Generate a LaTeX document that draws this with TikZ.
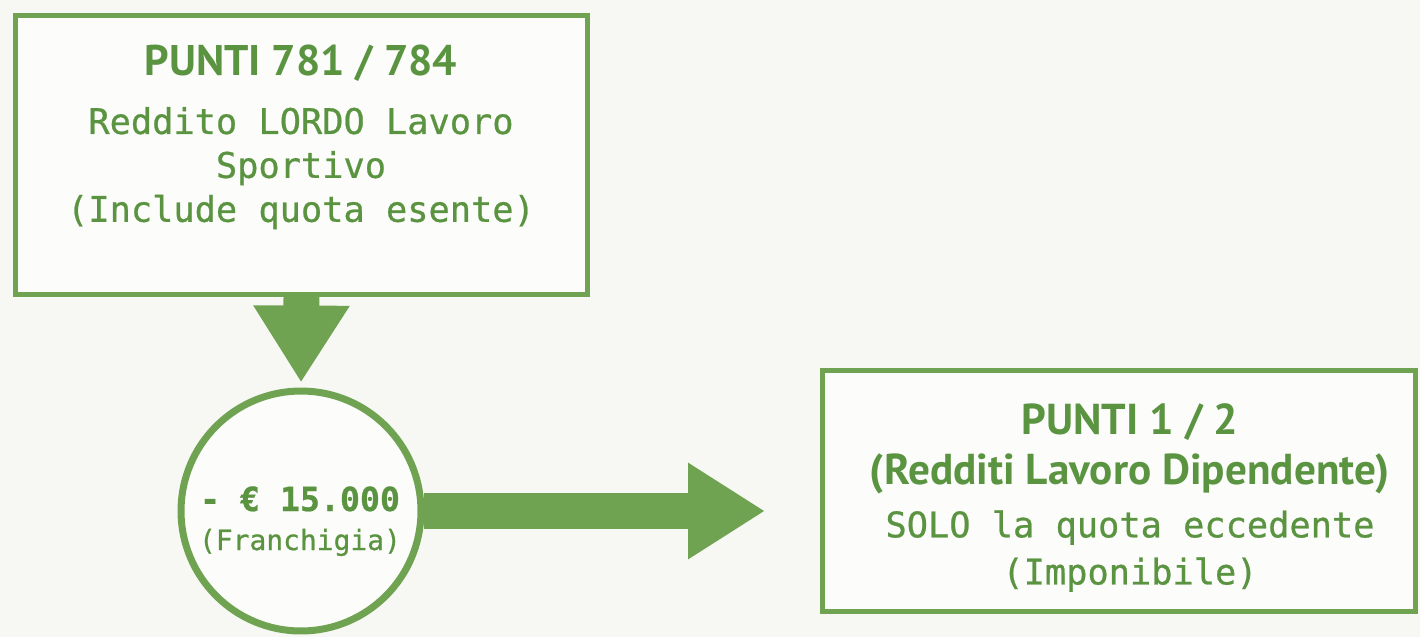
\documentclass[tikz,border=0pt]{standalone}
\usepackage{fontspec}
\usetikzlibrary{arrows.meta,positioning}
\newfontfamily\titlefont{PT Sans}
\newfontfamily\monofont[FakeBold=0.7]{DejaVu Sans Mono}
\definecolor{verde}{HTML}{6FA352}
\definecolor{verdetxt}{HTML}{5B9441}
\definecolor{sfondo}{HTML}{F7F8F4}

\begin{document}
\begin{tikzpicture}[x=0.02cm,y=-0.02cm,
  panel/.style={draw=verde,line width=0.1cm,fill=white!60!sfondo,minimum width=#1},
  testo/.style={text=verdetxt,align=center,inner sep=0pt,anchor=north},
  freccia/.style={draw=verde,line width=0.72cm,-{Triangle[length=1.54cm,width=1.82cm]}}]
  \fill[sfondo] (0,0) rectangle (1420,637);
  \useasboundingbox (0,0) rectangle (1420,637);
  \node[panel=11.44cm,minimum height=5.58cm] (lordo) at (301.5,155) {};
  \node[panel=11.86cm,minimum height=4.82cm] (dipendente) at (1119,491) {};
  \node[draw=verde,line width=0.14cm,circle,minimum size=4.8cm,fill=white!60!sfondo] (franchigia) at (301,511) {};
  \node[testo,font=\monofont\fontsize{20.1}{25}\selectfont] (lordotxt) at (301,45)
    {{\titlefont\bfseries\fontsize{24.4}{25}\selectfont PUNTI 781 / 784}\\[8pt]
     Reddito LORDO Lavoro\\ Sportivo\\ (Include quota esente)};
  \node[testo,font=\monofont\fontsize{20.1}{26.8}\selectfont] (dipendentetxt) at (1130,403)
    {{\titlefont\bfseries\fontsize{24.6}{26.8}\selectfont PUNTI 1 / 2}\\[1.7pt]
     {\titlefont\bfseries\fontsize{24.6}{26.8}\selectfont (Redditi Lavoro Dipendente)}\\[3.4pt]
     SOLO la quota eccedente\\ (Imponibile)};
  \node[testo,font=\monofont\fontsize{15.9}{22.2}\selectfont] (franchigiatxt) at (300,486)
    {{\bfseries\fontsize{18.9}{22.2}\selectfont - € 15.000}\\ (Franchigia)};
  \draw[freccia,shorten >=0.1cm] (lordo.south) -- (franchigia.north);
  \draw[freccia,shorten >=1.1cm] (franchigia.east) -- (franchigia.east -| dipendente.west);
\end{tikzpicture}
\end{document}
